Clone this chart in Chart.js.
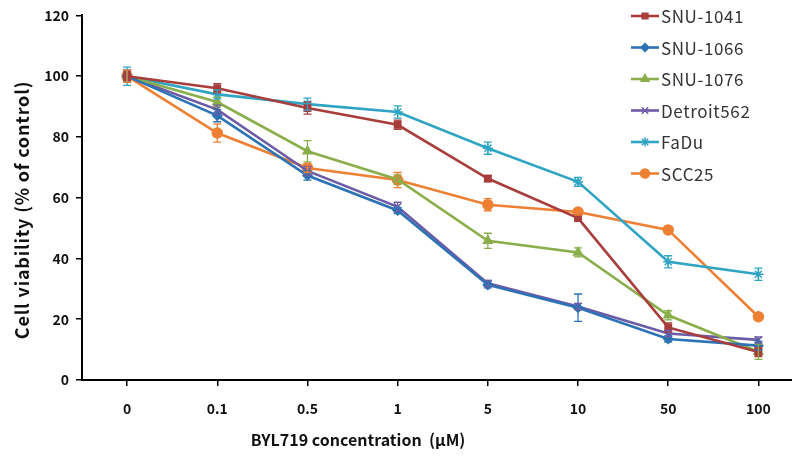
<!DOCTYPE html>
<html>
<head>
<meta charset="utf-8">
<script src="https://cdn.jsdelivr.net/npm/chart.js@4/dist/chart.umd.min.js"></script>
<style>
  html, body { margin: 0; padding: 0; background: #fff; overflow: hidden; }
  #wrap { position: relative; width: 812px; height: 457px; }
</style>
</head>
<body>
<div id="wrap"><canvas id="viability" width="810" height="457"></canvas></div>
<script>
// concentrations (uM)
const doses = ['0', '0.1', '0.5', '1', '5', '10', '50', '100'];

// cell viability (% of control)
const snu1041 = [100, 96, 89.5, 84, 66.3, 53.3, 17.3, 9.2];
const snu1066 = [100, 87, 67.3, 55.8, 31.3, 23.8, 13.5, 11.3];
const snu1076 = [100, 91.5, 75.3, 66, 45.8, 42, 21.3, 9.3];
const detroit562 = [100, 89, 68.8, 57, 31.8, 24.2, 15.3, 13.2];
const fadu = [100, 94, 90.8, 88.2, 76.3, 65.2, 38.9, 34.8];
const scc25 = [100, 81.3, 69.8, 65.8, 57.7, 55.3, 49.4, 20.8];

// error bars (+/-)
const snu1041Err = [1.5, 1.5, 2, 1.5, 1, 1, 1.5, 1.5];
const snu1066Err = [2, 2, 1.5, 1, 1, 4.5, 1, 1.5];
const snu1076Err = [2, 1.5, 3.5, 1.5, 2.5, 1.5, 1.5, 2.5];
const detroit562Err = [2, 1.5, 1.5, 1.5, 1, 1, 1, 1];
const faduErr = [3, 1.5, 2, 2, 2, 1.5, 2, 2];
const scc25Err = [2, 3, 1.5, 2.5, 2, 1, 1, 1];

const yTicks = [0, 20, 40, 60, 80, 100, 120];

const FONT = '"Noto Sans CJK KR", "Noto Sans", sans-serif';

function series(label, data, err, color, style, radius) {
    return {
        label: label,
        data: data,
        err: err,
        borderColor: color,
        backgroundColor: color,
        borderWidth: 2.6,
        pointStyle: style,
        pointRadius: radius,
        pointHoverRadius: radius,
        pointBackgroundColor: color,
        pointBorderColor: color,
        pointBorderWidth: 1.5,
        tension: 0
    };
}

const datasets = [
    series('SNU-1041', snu1041, snu1041Err, '#a83d3c', 'rect', 4.5),
    series('SNU-1066', snu1066, snu1066Err, '#2c73b5', 'rectRot', 4.5),
    series('SNU-1076', snu1076, snu1076Err, '#8aae4a', 'triangle', 5),
    series('Detroit562', detroit562, detroit562Err, '#6c5ba6', 'crossRot', 5),
    series('FaDu', fadu, faduErr, '#2fa5c3', 'star', 5),
    series('SCC25', scc25, scc25Err, '#ee8034', 'circle', 5)
];

// error bars drawn through the y scale
const errorBars = {
    id: 'errorBars',
    afterDatasetsDraw(chart) {
        const ctx = chart.ctx;
        const y = chart.scales.y;
        chart.data.datasets.forEach((ds, i) => {
            const meta = chart.getDatasetMeta(i);
            ctx.save();
            ctx.strokeStyle = ds.borderColor;
            ctx.lineWidth = 1.3;
            meta.data.forEach((pt, j) => {
                const v = ds.data[j], e = ds.err[j];
                const top = y.getPixelForValue(v + e);
                const bot = y.getPixelForValue(v - e);
                ctx.beginPath();
                ctx.moveTo(pt.x, top); ctx.lineTo(pt.x, bot);
                ctx.moveTo(pt.x - 4, top); ctx.lineTo(pt.x + 4, top);
                ctx.moveTo(pt.x - 4, bot); ctx.lineTo(pt.x + 4, bot);
                ctx.stroke();
            });
            ctx.restore();
        });
    }
};

// legend in the top right corner, plus the two axis titles
const extras = {
    id: 'extras',
    afterDraw(chart) {
        const ctx = chart.ctx;
        ctx.save();
        chart.data.datasets.forEach((ds, i) => {
            const yy = 16 + i * 31.5;
            ctx.strokeStyle = ds.borderColor;
            ctx.lineWidth = 2.6;
            ctx.beginPath();
            ctx.moveTo(631, yy); ctx.lineTo(659, yy);
            ctx.stroke();
            ctx.fillStyle = ds.borderColor;
            ctx.lineWidth = 1.5;
            Chart.helpers.drawPoint(ctx, {
                pointStyle: ds.pointStyle,
                radius: ds.pointRadius - 0.5,
                borderWidth: 1.5,
                rotation: 0
            }, 645, yy);
            ctx.fillStyle = '#333';
            ctx.font = '17px ' + FONT;
            ctx.letterSpacing = '0.6px';
            ctx.textBaseline = 'middle';
            ctx.textAlign = 'left';
            ctx.fillText(ds.label, 661, yy + 1);
        });
        ctx.letterSpacing = '0px';
        ctx.fillStyle = '#111';
        ctx.font = 'bold 16px ' + FONT;
        ctx.textAlign = 'center';
        ctx.textBaseline = 'middle';
        ctx.fillText('BYL719 concentration  (\u03bcM)', 358, 440);

        ctx.translate(22, 210);
        ctx.rotate(-Math.PI / 2);
        ctx.font = 'bold 18px ' + FONT;
        ctx.letterSpacing = '0.8px';
        ctx.fillText('Cell viability (% of control)', 0, 0);
        ctx.restore();
    }
};

const tickFont = { family: FONT, size: 14, weight: 'bold' };

new Chart(document.getElementById('viability').getContext('2d'), {
    type: 'line',
    data: { labels: doses, datasets: datasets },
    plugins: [errorBars, extras],
    options: {
        responsive: false,
        animation: false,
        events: [],
        layout: { padding: { top: 15, left: 0, right: 0, bottom: 0 } },
        plugins: { legend: { display: false }, tooltip: { enabled: false } },
        scales: {
            x: {
                type: 'category',
                offset: true,
                grid: { drawOnChartArea: false, drawTicks: true, tickLength: 6, color: '#000', lineWidth: 1.5 },
                border: { color: '#000', width: 2 },
                ticks: { color: '#111', font: tickFont, padding: 14 },
                afterFit(scale) { scale.height = 77; }
            },
            y: {
                min: 0,
                max: 120,
                afterBuildTicks(scale) { scale.ticks = yTicks.map(v => ({ value: v })); },
                grid: { drawOnChartArea: false, drawTicks: true, tickLength: 6, color: '#000', lineWidth: 1.5 },
                border: { color: '#000', width: 2 },
                ticks: { color: '#111', font: tickFont, padding: 7 },
                afterFit(scale) { scale.width = 82; }
            }
        }
    }
});
</script>
</body>
</html>
